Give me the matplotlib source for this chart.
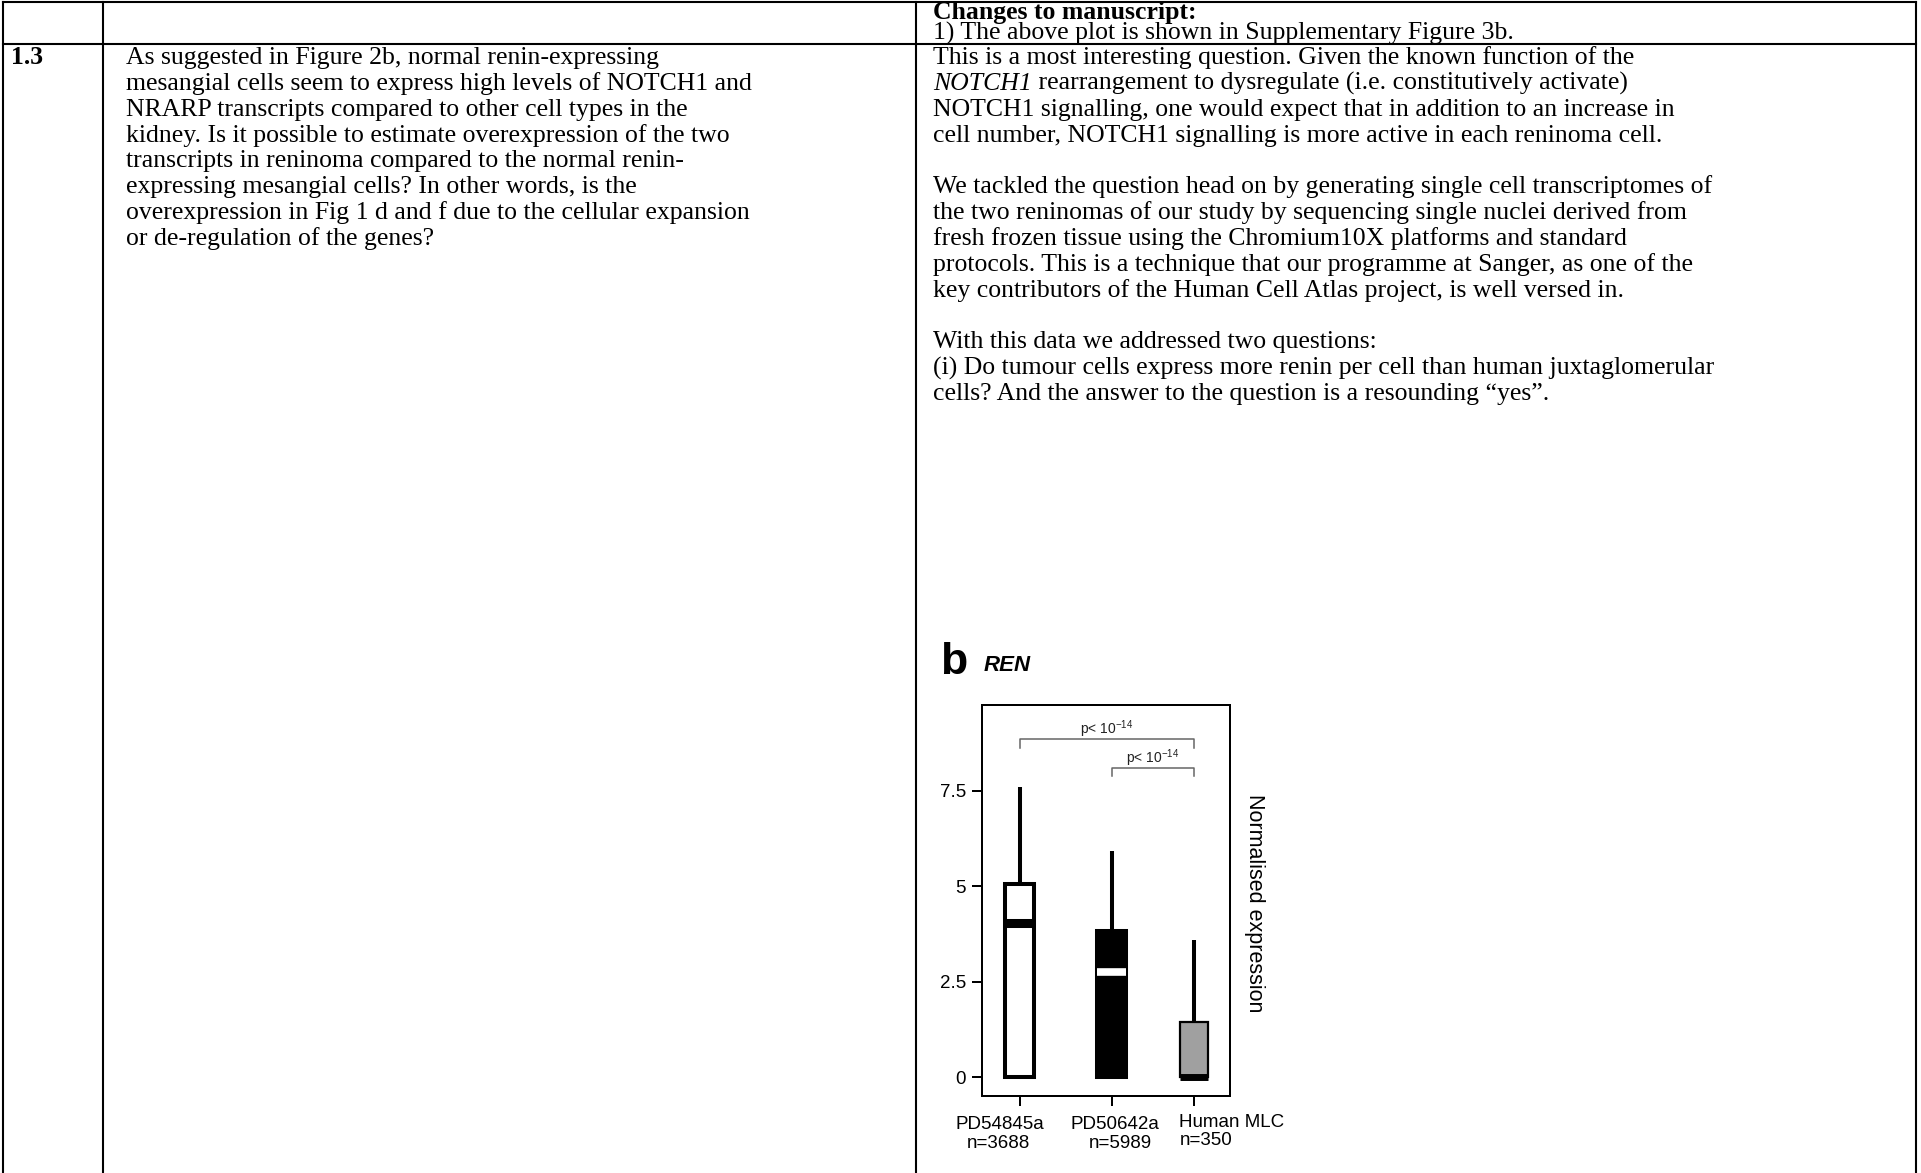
import matplotlib
matplotlib.use("Agg")
import matplotlib.pyplot as plt

plt.rcParams['mathtext.fontset'] = 'custom'
plt.rcParams['mathtext.rm'] = 'Liberation Sans'
plt.rcParams['mathtext.it'] = 'Liberation Sans:italic'

# ---- box-plot summary of REN expression ----
groups = ["PD54845a", "PD50642a", "Human MLC"]
cell_counts = [3688, 5989, 350]
q1_values = [0.0, 0.0, 0.0]
median_values = [4.04, 2.74, 0.0]
q3_values = [5.05, 3.82, 1.43]
whisker_low = [0.0, 0.0, 0.0]
whisker_high = [7.6, 5.93, 3.58]
ytick_values = [0, 2.5, 5, 7.5]
ytick_labels = ["0", "2.5", "5", "7.5"]
comparisons = [(0, 2), (1, 2)]
p_label = r"p< $\mathit{10}^{\mathit{-14}}$"

# ---- table text ----
row_id = "1.3"
question_lines = [
    "As suggested in Figure 2b, normal renin-expressing",
    "mesangial cells seem to express high levels of NOTCH1 and",
    "NRARP transcripts compared to other cell types in the",
    "kidney. Is it possible to estimate overexpression of the two",
    "transcripts in reninoma compared to the normal renin-",
    "expressing mesangial cells? In other words, is the",
    "overexpression in Fig 1 d and f due to the cellular expansion",
    "or de-regulation of the genes?",
]
header_title = "Changes to manuscript:"
header_line = "1) The above plot is shown in Supplementary Figure 3b."
answer_lines = [
    "This is a most interesting question. Given the known function of the",
    ("NOTCH1", " rearrangement to dysregulate (i.e. constitutively activate)"),
    "NOTCH1 signalling, one would expect that in addition to an increase in",
    "cell number, NOTCH1 signalling is more active in each reninoma cell.",
    "",
    "We tackled the question head on by generating single cell transcriptomes of",
    "the two reninomas of our study by sequencing single nuclei derived from",
    "fresh frozen tissue using the Chromium10X platforms and standard",
    "protocols. This is a technique that our programme at Sanger, as one of the",
    "key contributors of the Human Cell Atlas project, is well versed in.",
    "",
    "With this data we addressed two questions:",
    "(i) Do tumour cells express more renin per cell than human juxtaglomerular",
    "cells? And the answer to the question is a resounding \u201cyes\u201d.",
]

W, H = 1921, 1173
fig = plt.figure(figsize=(W / 100, H / 100), dpi=100)
fig.patch.set_facecolor("white")

# page layer in pixel units
page = fig.add_axes([0, 0, 1, 1])
page.set_xlim(0, W)
page.set_ylim(H, 0)
page.axis("off")

SERIF = "Liberation Serif"
SANS = "Liberation Sans"
FS = 18.5
LW = 1.5

# table rules
top_y, sep_y = 1.5, 43.5
col_x = [3, 103, 916, 1916]
page.plot([col_x[0], col_x[-1]], [top_y, top_y], color="black", lw=LW, solid_capstyle="projecting")
page.plot([col_x[0], col_x[-1]], [sep_y, sep_y], color="black", lw=LW, solid_capstyle="projecting")
for x in col_x:
    page.plot([x, x], [top_y, H], color="black", lw=LW, solid_capstyle="projecting")

# header row
page.text(933, 19, header_title, fontfamily=SERIF, fontsize=FS, fontweight="bold", va="baseline")
page.text(933, 39.5, header_line, fontfamily=SERIF, fontsize=FS, va="baseline")

# question row
line_step = 25.85
base0 = 64
page.text(11, base0, row_id, fontfamily=SERIF, fontsize=FS, fontweight="bold", va="baseline")
for i, s in enumerate(question_lines):
    page.text(126, base0 + i * line_step, s, fontfamily=SERIF, fontsize=FS, va="baseline")
for i, s in enumerate(answer_lines):
    y = base0 + i * line_step
    if isinstance(s, tuple):
        t1 = page.text(933, y, s[0], fontfamily=SERIF, fontsize=FS, fontstyle="italic", va="baseline")
        page.annotate(s[1], xy=(1, 0), xycoords=t1, fontfamily=SERIF, fontsize=FS,
                      ha="left", va="bottom")
    elif s:
        page.text(933, y, s, fontfamily=SERIF, fontsize=FS, va="baseline")

# panel heading
page.text(940, 674, "b", fontfamily=SANS, fontsize=32, fontweight="bold", va="baseline")
page.text(983.5, 671, "REN", fontfamily=SANS, fontsize=16, fontweight="bold",
          fontstyle="italic", va="baseline")

# ---- box plot ----
positions = [1, 2, 2.9]
ax = fig.add_axes([982 / W, 1 - 1095.5 / H, 248 / W, 390.5 / H])
stats = [dict(med=m, q1=a, q3=b, whislo=lo, whishi=hi, label="")
         for m, a, b, lo, hi in zip(median_values, q1_values, q3_values, whisker_low, whisker_high)]
res = ax.bxp(stats, positions=positions, widths=0.31, patch_artist=True,
             showfliers=False, showcaps=False,
             whiskerprops=dict(color="black", linewidth=2.9, solid_capstyle="butt"),
             boxprops=dict(linewidth=2.9, edgecolor="black"),
             medianprops=dict(color="black", linewidth=6, solid_capstyle="butt"))
face_colors = ["white", "black", "#a0a0a0"]
edge_widths = [2.9, 2.9, 1.6]
median_colors = ["black", "white", "black"]
median_widths = [6.5, 5.5, 5.0]
for box, fc, ew in zip(res["boxes"], face_colors, edge_widths):
    box.set_facecolor(fc)
    box.set_edgecolor("black")
    box.set_linewidth(ew)
for med, mc, mw in zip(res["medians"], median_colors, median_widths):
    med.set_color(mc)
    med.set_linewidth(mw)

ax.set_xlim(0.59, 3.29)
ax.set_ylim(-0.484, 9.74)
ax.set_yticks(ytick_values)
ax.set_yticklabels(ytick_labels, fontfamily=SANS)
ax.set_xticks(positions)
ax.set_xticklabels([])
ax.tick_params(direction="out", length=7.5, width=1.44, labelsize=13.5, pad=4, color="black")
for sp in ax.spines.values():
    sp.set_linewidth(1.44)
    sp.set_color("black")

# significance brackets
bracket_levels = [8.84, 8.09]
drop = 0.22
for (i, j), yb in zip(comparisons, bracket_levels):
    x1, x2 = positions[i], positions[j]
    ax.plot([x1, x1, x2, x2], [yb - drop, yb, yb, yb - drop], color="#666666", lw=1.1)
    ax.text((x1 + x2) / 2, yb + 0.27, p_label, fontfamily=SANS, fontsize=10,
            ha="center", va="center", color="#222222")

# category labels under the axis
label_layout = [(999.5, 998, 1129, 1148, "center"),
                (1115, 1120, 1129, 1148, "center"),
                (1179, 1180, 1127, 1145, "left")]
for name, n, (x1, x2, y1, y2, ha) in zip(groups, cell_counts, label_layout):
    page.text(x1, y1, name, fontfamily=SANS, fontsize=13.5, ha=ha, va="baseline")
    page.text(x2, y2, f"n={n}", fontfamily=SANS, fontsize=13.5, ha=ha, va="baseline")

page.text(1255, 903, "Normalised expression", fontfamily=SANS, fontsize=15.5,
          rotation=270, ha="center", va="center")

fig.savefig("out.png", dpi=100)
